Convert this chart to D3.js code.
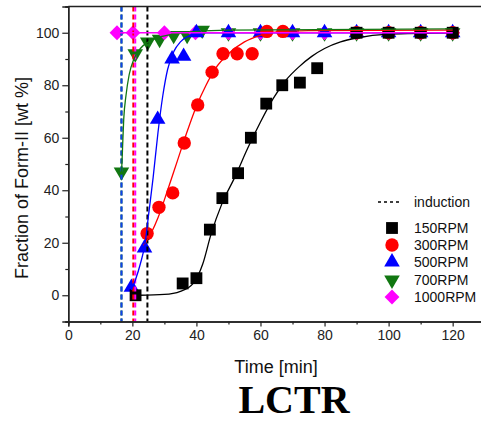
<!DOCTYPE html>
<html><head><meta charset="utf-8">
<script src="https://cdn.jsdelivr.net/npm/d3@7"></script>
<style>body{margin:0;background:#fff}svg{display:block}</style>
</head><body>
<svg id="c" width="481" height="422"></svg>
<script>
// ---- data ----
const xTicks = [0, 20, 40, 60, 80, 100, 120];
const yTicks = [0, 20, 40, 60, 80, 100];
const seriesNames = ["150RPM", "300RPM", "500RPM", "700RPM", "1000RPM"];
const seriesColors = ["#000000", "#ff0000", "#0000ff", "#117711", "#ff00ff"];

const rpm150 = [[21,0],[35.7,4.5],[40,6.5],[44.2,25],[48.1,37],[53,46.5],[57,60],[61.8,73],[66.8,80],[72.3,81],[77.7,86.5],[90,100],[100,100],[110,100],[120,100]];
const rpm300 = [[24.6,23.5],[28.3,33.5],[32.6,39],[36.2,58],[40.4,72.5],[44.9,85],[48.3,92],[52.7,92],[57.4,92],[62,100.5],[67,100.5],[90,100],[100,100],[110,100],[120,100]];
const rpm500 = [[19.7,3],[23.8,18],[27.9,67],[32.4,90],[36,91],[40,100],[50,100],[60,100],[70,100],[80,100],[90,100],[100,100],[110,100],[120,100]];
const rpm700 = [[16.6,47],[20.9,92],[24.8,96.5],[28.5,97.5],[32.9,99],[37.1,99],[41.8,101],[50,100],[60,100],[70,100],[80,100],[90,100],[100,100],[110,100],[120,100]];
const rpm1000 = [[15.2,100],[20.2,100],[30,100],[39.7,100],[50,100],[60,100],[70,100],[80,100],[90,100],[100,100],[110,100],[120,100]];

// fitted curves
const fit150 = [[22,0],[30,0.3],[35,1.5],[39,4.5],[42,12],[44.5,23],[48,35],[52,45],[56,56],[60,66],[64,75],[68,82],[72,87],[76,91],[80,94],[85,96.5],[90,98],[100,99.5],[120,100]];
const fit300 = [[23.5,19],[26,24],[28,29.5],[31,40],[34,51],[37,62],[40,72],[43,80],[46,86.5],[50,92],[55,96.5],[60,99],[65,100.3],[75,100.8],[120,101]];
const fit500 = [[19.7,2],[21,6],[22.5,12],[24,20],[25,30],[26.5,45],[28,62],[29.5,76],[31,86],[33,93],[35,96.5],[38,99],[42,100],[120,100]];
const fit700 = [[16.6,46],[16.9,55],[17.3,67],[18,76],[19,84],[20.5,90],[22.5,94],[25,96.5],[28.5,98.3],[33,99.5],[40,100.5],[50,101],[120,101.5]];
const fit1000 = [[15,100],[120,100]];

// induction times (vertical dashed lines)
const inductionTimes = [16.6, 16.6, 20.3, 20.9, 24.7];
const inductionColors = ["#117711", "#1040ee", "#ff0000", "#ff00ff", "#000000"];

// ---- drawing ----
const svg = d3.select("#c");
const x = d3.scaleLinear().domain([0, 130]).range([68.3, 484.7]);
const y = d3.scaleLinear().domain([-10, 110]).range([321.5, 6.5]);
const axisColor = "#222";

const points = [rpm150, rpm300, rpm500, rpm700, rpm1000];
const fits = [fit150, fit300, fit500, fit700, fit1000];

// markers
const sym = {
  square: d3.symbol().type(d3.symbolSquare).size(140)(),
  circle: d3.symbol().type(d3.symbolCircle).size(140)(),
  tri: d3.symbol().type(d3.symbolTriangle).size(105)(),
  diamond: d3.symbol().type(d3.symbolSquare).size(110)()
};
function markerAttrs(sel, i) {
  if (i === 0) sel.attr("d", sym.square).attr("data-rot", 0);
  if (i === 1) sel.attr("d", sym.circle).attr("data-rot", 0);
  if (i === 2) sel.attr("d", sym.tri).attr("data-rot", 0);
  if (i === 3) sel.attr("d", sym.tri).attr("data-rot", 180);
  if (i === 4) sel.attr("d", sym.diamond).attr("data-rot", 45);
}
// order: 700, 1000, 500, 300, 150 (150 on top)
const drawOrder = [3, 4, 2, 1, 0];
drawOrder.forEach(i => {
  const g = svg.append("g");
  g.selectAll("path").data(points[i]).join("path")
    .call(markerAttrs, i)
    .attr("fill", seriesColors[i])
    .attr("transform", function(d) {
      const r = +this.getAttribute("data-rot");
      return `translate(${x(d[0])},${y(d[1])}) rotate(${r})`;
    });
});

// induction lines
const gInd = svg.append("g");
inductionTimes.forEach((t, k) => {
  gInd.append("line")
    .attr("x1", x(t)).attr("x2", x(t))
    .attr("y1", y(110)).attr("y2", y(-10))
    .attr("stroke", inductionColors[k])
    .attr("stroke-width", 2)
    .attr("stroke-dasharray", "5,3");
});

// fitted lines
const line = d3.line().x(d => x(d[0])).y(d => y(d[1])).curve(d3.curveMonotoneX);
[0, 1, 2, 3, 4].forEach(i => {
  svg.append("path").attr("d", line(fits[i]))
    .attr("fill", "none").attr("stroke", seriesColors[i]).attr("stroke-width", 1.3);
});

// axes
const gx = svg.append("g").attr("transform", `translate(0,${y(-10)})`)
  .call(d3.axisBottom(x).tickValues(xTicks).tickSize(5).tickPadding(4).tickFormat(d3.format("d")));
const gxm = svg.append("g").attr("transform", `translate(0,${y(-10)})`)
  .call(d3.axisBottom(x).tickValues([10, 30, 50, 70, 90, 110, 130]).tickSize(3).tickFormat(""));
const gy = svg.append("g").attr("transform", `translate(${x(0)},0)`)
  .call(d3.axisLeft(y).tickValues(yTicks).tickSize(6).tickPadding(3).tickFormat(d3.format("d")));
const gym = svg.append("g").attr("transform", `translate(${x(0)},0)`)
  .call(d3.axisLeft(y).tickValues([-10, 10, 30, 50, 70, 90, 110]).tickSize(3).tickFormat(""));
[gx, gxm, gy, gym].forEach(g => {
  g.select(".domain").attr("stroke", axisColor).attr("stroke-width", 1.4);
  g.selectAll(".tick line").attr("stroke", axisColor).attr("stroke-width", 1.2);
  g.selectAll("text").attr("fill", "#222").style("font-family", "Liberation Sans, Arial, sans-serif").style("font-size", "14px");
});
// top border
svg.append("line").attr("x1", x(0)).attr("x2", 481).attr("y1", y(110)).attr("y2", y(110))
  .attr("stroke", axisColor).attr("stroke-width", 1.4);

// axis titles
svg.append("text").attr("x", 276).attr("y", 373)
  .attr("text-anchor", "middle").attr("fill", "#111")
  .style("font-family", "Liberation Sans, Arial, sans-serif").style("font-size", "18px")
  .text("Time [min]");
svg.append("text").attr("transform", "translate(28,178) rotate(-90)")
  .attr("text-anchor", "middle").attr("fill", "#111")
  .style("font-family", "Liberation Sans, Arial, sans-serif").style("font-size", "18px")
  .text("Fraction of Form-II [wt %]");
svg.append("text").attr("x", 294).attr("y", 413)
  .attr("text-anchor", "middle").attr("fill", "#000")
  .style("font-family", "Liberation Serif, Times New Roman, serif").style("font-size", "40px").style("font-weight", "bold")
  .text("LCTR");

// legend
const lg = svg.append("g");
lg.append("line").attr("x1", 378).attr("x2", 401).attr("y1", 202).attr("y2", 202)
  .attr("stroke", "#000").attr("stroke-width", 1.5).attr("stroke-dasharray", "3,3");
lg.append("text").attr("x", 414).attr("y", 207).text("induction")
  .style("font-family", "Liberation Sans, Arial, sans-serif").style("font-size", "14px").attr("fill", "#111");
const legY = [228, 245, 262, 280, 297];
seriesNames.forEach((n, i) => {
  const p = lg.append("path").call(markerAttrs, i).attr("fill", seriesColors[i]);
  const r = +p.attr("data-rot");
  p.attr("transform", `translate(392,${legY[i]}) rotate(${r})`);
  lg.append("text").attr("x", 414).attr("y", legY[i] + 5).text(n)
    .style("font-family", "Liberation Sans, Arial, sans-serif").style("font-size", "14px").attr("fill", "#111");
});
</script>
</body></html>
